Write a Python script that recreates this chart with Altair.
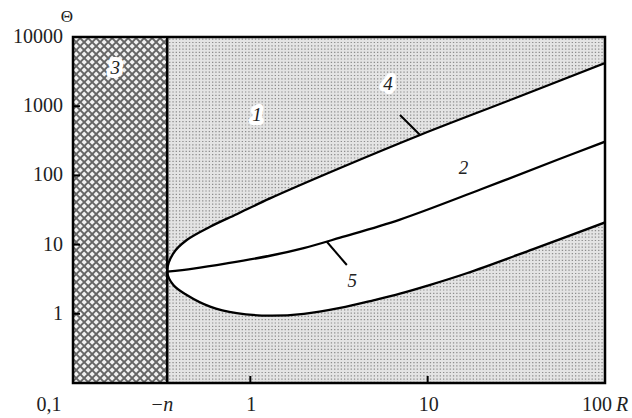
import altair as alt
import numpy as np
import pandas as pd

# ---- axis ranges (log-log) ----
X_MIN, X_MAX = 0.1, 100
Y_MIN, Y_MAX = 0.1, 10000
NEG_N = 0.34          # position of the R = -n boundary

W, H = 532, 346       # plot area

# ---- boundary curves Θ(R) ----
upper_R = [0.34, 0.368, 0.438, 0.593, 0.838, 1.29, 3.21, 9.06, 30, 100]
upper_T = [4.06, 7.49, 11.65, 18.1, 27.5, 46.5, 128, 384, 1260, 4210]

lower_R = [0.34, 0.368, 0.438, 0.593, 0.838, 1.29, 2.0, 3.21, 5.0, 6.98, 10, 16.6, 39.4, 100]
lower_T = [4.06, 2.61, 1.87, 1.27, 1.02, 0.94, 1.0, 1.22, 1.58, 1.95, 2.55, 3.85, 8.6, 20.9]

mid_R = [0.34, 0.477, 0.736, 1.29, 2.0, 3.21, 6.98, 20, 53.5, 100]
mid_T = [4.06, 4.5, 5.35, 6.9, 8.9, 12.6, 23, 63, 167, 307]

# ---- region / curve labels ----
label_text = ["1", "2", "3", "4", "5"]
label_R = [1.09, 15.9, 0.173, 5.98, 3.75]
label_T = [747, 128, 3570, 2090, 2.98]
halo_labels = ["1", "3", "4"]

# leader lines for curves 4 and 5
leader_R = [6.98, 2.70]
leader_T = [747, 11.0]
leader_R2 = [9.06, 3.50]
leader_T2 = [384, 5.07]

# ---- ticks ----
x_tick_vals = [1, 10]
y_tick_vals = [1, 10, 100, 1000]
x_label_vals = [1, 10]
x_label_text = ["1", "10"]
y_label_vals = [1, 10, 100, 1000, 10000]
y_label_text = ["1", "10", "100", "1000", "10000"]

SERIF = "Liberation Serif"
TXT = "#222222"

xs = alt.Scale(type="log", domain=[X_MIN, X_MAX])
ys = alt.Scale(type="log", domain=[Y_MIN, Y_MAX])


def X(f="x"):
    return alt.X(f"{f}:Q", scale=xs, axis=None)


def Y(f="y"):
    return alt.Y(f"{f}:Q", scale=ys, axis=None)


# ---- textures ----
dec_x = W / np.log10(X_MAX / X_MIN)
dec_y = H / np.log10(Y_MAX / Y_MIN)
u_n = dec_x * np.log10(NEG_N / X_MIN)


def to_x(u):
    return X_MIN * 10 ** (u / dec_x)


def to_y(v):
    return Y_MIN * 10 ** (v / dec_y)


hatch_rows = []
step = 8.0
for c in np.arange(-u_n - step, H + step, step):
    hatch_rows.append(dict(x=to_x(0), y=to_y(c), x2=to_x(u_n), y2=to_y(c + u_n)))
for c in np.arange(0, H + u_n + step, step):
    hatch_rows.append(dict(x=to_x(0), y=to_y(c), x2=to_x(u_n), y2=to_y(c - u_n)))
hatch = pd.DataFrame(hatch_rows)

dot_cols = pd.DataFrame({
    "x": [to_x(u) for u in np.arange(u_n + 2.5, W, 3.3)],
})
dot_cols["y"] = Y_MIN
dot_cols["y2"] = Y_MAX

regions = pd.DataFrame({
    "x": [NEG_N, X_MIN], "x2": [X_MAX, NEG_N],
    "y": [Y_MIN, Y_MIN], "y2": [Y_MAX, Y_MAX],
    "fill": ["#e4e4e4", "#f2f2f2"],
})

# closed outline of region 2: upper branch backwards, then lower branch
env = pd.DataFrame({
    "x": upper_R[::-1] + lower_R[1:],
    "y": upper_T[::-1] + lower_T[1:],
})
env["order"] = range(len(env))
mid = pd.DataFrame({"x": mid_R, "y": mid_T})
mid["order"] = range(len(mid))

labels = pd.DataFrame({"t": label_text, "x": label_R, "y": label_T})
halos = labels[labels["t"].isin(halo_labels)]
leaders = pd.DataFrame({"x": leader_R, "y": leader_T, "x2": leader_R2, "y2": leader_T2})
frame = pd.DataFrame({"x": [X_MIN], "x2": [X_MAX], "y": [Y_MIN], "y2": [Y_MAX]})
boundary = pd.DataFrame({"x": [NEG_N], "y": [Y_MIN], "y2": [Y_MAX]})

layers = []

layers.append(
    alt.Chart(regions).mark_rect().encode(
        x=X(), x2="x2:Q", y=Y(), y2="y2:Q",
        fill=alt.Fill("fill:N", scale=None),
    )
)
layers.append(
    alt.Chart(dot_cols).mark_rule(color="#8c8c8c", strokeWidth=1.3, strokeDash=[1.2, 2.1]).encode(
        x=X(), y=Y(), y2="y2:Q"
    )
)
layers.append(
    alt.Chart(hatch).mark_rule(color="#666666", strokeWidth=1.9, clip=True).encode(
        x=X(), x2="x2:Q", y=Y(), y2="y2:Q"
    )
)
layers.append(
    alt.Chart(env).mark_line(
        interpolate="catmull-rom", fill="white", stroke="black", strokeWidth=2.3, clip=True
    ).encode(x=X(), y=Y(), order="order:Q")
)
layers.append(
    alt.Chart(mid).mark_line(
        interpolate="catmull-rom", color="black", strokeWidth=2.3, clip=True
    ).encode(x=X(), y=Y(), order="order:Q")
)
layers.append(
    alt.Chart(leaders).mark_rule(color="black", strokeWidth=2).encode(
        x=X(), x2="x2:Q", y=Y(), y2="y2:Q"
    )
)
layers.append(
    alt.Chart(halos).mark_text(
        font=SERIF, fontSize=19, fontStyle="italic", color="white",
        stroke="white", strokeWidth=8, strokeJoin="round",
    ).encode(x=X(), y=Y(), text="t:N")
)
layers.append(
    alt.Chart(labels).mark_text(
        font=SERIF, fontSize=19, fontStyle="italic", color=TXT
    ).encode(x=X(), y=Y(), text="t:N")
)
layers.append(
    alt.Chart(boundary).mark_rule(color="black", strokeWidth=2.5).encode(
        x=X(), y=Y(), y2="y2:Q"
    )
)
layers.append(
    alt.Chart(frame).mark_rect(fillOpacity=0, stroke="black", strokeWidth=2.5).encode(
        x=X(), x2="x2:Q", y=Y(), y2="y2:Q"
    )
)
# inward tick marks
layers.append(
    alt.Chart(pd.DataFrame({"x": x_tick_vals})).mark_rule(color="black", strokeWidth=2).encode(
        x=X(), y=alt.value(H), y2=alt.value(H - 7)
    )
)
layers.append(
    alt.Chart(pd.DataFrame({"y": y_tick_vals})).mark_rule(color="black", strokeWidth=2).encode(
        y=Y(), x=alt.value(0), x2=alt.value(7)
    )
)
# tick labels
layers.append(
    alt.Chart(pd.DataFrame({"y": y_label_vals, "t": y_label_text})).mark_text(
        font=SERIF, fontSize=20, color=TXT, align="right", baseline="middle", dx=-10
    ).encode(y=Y(), x=alt.value(0), text="t:N")
)
layers.append(
    alt.Chart(pd.DataFrame({"x": x_label_vals, "t": x_label_text})).mark_text(
        font=SERIF, fontSize=20, color=TXT, baseline="middle", dx=1
    ).encode(x=X(), y=alt.value(H + 22), text="t:N")
)
layers.append(
    alt.Chart(pd.DataFrame({"x": [NEG_N], "t": ["\u2212"]})).mark_text(
        font=SERIF, fontSize=20, color=TXT, baseline="middle", dx=-10
    ).encode(x=X(), y=alt.value(H + 22), text="t:N")
)
layers.append(
    alt.Chart(pd.DataFrame({"x": [NEG_N], "t": ["n"]})).mark_text(
        font=SERIF, fontSize=20, fontStyle="italic", color=TXT, baseline="middle", dx=1
    ).encode(x=X(), y=alt.value(H + 22), text="t:N")
)
layers.append(
    alt.Chart(pd.DataFrame({"x": [X_MIN], "t": ["0,1"]})).mark_text(
        font=SERIF, fontSize=20, color=TXT, baseline="middle", dx=-24
    ).encode(x=X(), y=alt.value(H + 22), text="t:N")
)
layers.append(
    alt.Chart(pd.DataFrame({"x": [X_MAX], "t": ["100"]})).mark_text(
        font=SERIF, fontSize=20, color=TXT, baseline="middle", dx=-8
    ).encode(x=X(), y=alt.value(H + 22), text="t:N")
)
layers.append(
    alt.Chart(pd.DataFrame({"x": [X_MAX], "t": ["R"]})).mark_text(
        font=SERIF, fontSize=20, fontStyle="italic", color=TXT, baseline="middle", dx=17
    ).encode(x=X(), y=alt.value(H + 22), text="t:N")
)
layers.append(
    alt.Chart(pd.DataFrame({"t": ["\u0398"]})).mark_text(
        font=SERIF, fontSize=17, color=TXT, baseline="middle"
    ).encode(x=alt.value(-6), y=alt.value(-20), text="t:N")
)

chart = alt.layer(*layers).properties(
    width=W, height=H,
    autosize=alt.AutoSizeParams(type="none"),
    padding={"left": 73, "top": 37, "right": 27, "bottom": 35},
    background="white",
).configure_view(stroke=None)

chart.save("out.html", embed_options={"renderer": "svg", "actions": False})
